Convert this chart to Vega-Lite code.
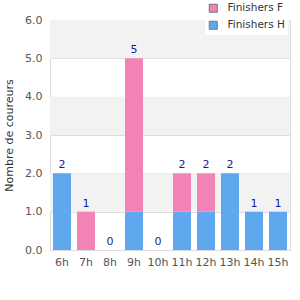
{
  "$schema": "https://vega.github.io/schema/vega-lite/v6.json",
  "width": 240,
  "height": 230,
  "autosize": {"type": "none"},
  "padding": {"left": 50, "top": 20, "right": 10, "bottom": 50},
  "background": "white",
  "config": {
    "view": {"stroke": "#dddddd", "strokeWidth": 1},
    "font": "DejaVu Sans",
    "axis": {"labelFont": "DejaVu Sans", "titleFont": "DejaVu Sans", "labelFontSize": 11, "labelColor": "#555555", "titleColor": "#333333", "titleFontSize": 11, "titleFontWeight": "normal", "domain": false, "ticks": false}
  },
  "datasets": {
    "runners": [
      {"heure": "6h", "serie": "Finishers H", "n": 2},
      {"heure": "6h", "serie": "Finishers F", "n": 0},
      {"heure": "7h", "serie": "Finishers H", "n": 0},
      {"heure": "7h", "serie": "Finishers F", "n": 1},
      {"heure": "8h", "serie": "Finishers H", "n": 0},
      {"heure": "8h", "serie": "Finishers F", "n": 0},
      {"heure": "9h", "serie": "Finishers H", "n": 1},
      {"heure": "9h", "serie": "Finishers F", "n": 4},
      {"heure": "10h", "serie": "Finishers H", "n": 0},
      {"heure": "10h", "serie": "Finishers F", "n": 0},
      {"heure": "11h", "serie": "Finishers H", "n": 1},
      {"heure": "11h", "serie": "Finishers F", "n": 1},
      {"heure": "12h", "serie": "Finishers H", "n": 1},
      {"heure": "12h", "serie": "Finishers F", "n": 1},
      {"heure": "13h", "serie": "Finishers H", "n": 2},
      {"heure": "13h", "serie": "Finishers F", "n": 0},
      {"heure": "14h", "serie": "Finishers H", "n": 1},
      {"heure": "14h", "serie": "Finishers F", "n": 0},
      {"heure": "15h", "serie": "Finishers H", "n": 1},
      {"heure": "15h", "serie": "Finishers F", "n": 0}
    ],
    "bands": [
      {"lo": 1, "hi": 2},
      {"lo": 3, "hi": 4},
      {"lo": 5, "hi": 6}
    ]
  },
  "layer": [
    {
      "data": {"name": "bands"},
      "mark": {"type": "rect", "color": "#f2f2f2"},
      "encoding": {
        "y": {"field": "lo", "type": "quantitative", "scale": {"domain": [0, 6]}},
        "y2": {"field": "hi"}
      }
    },
    {
      "data": {"name": "runners"},
      "mark": {"type": "bar"},
      "encoding": {
        "x": {"field": "heure", "type": "nominal", "sort": ["6h","7h","8h","9h","10h","11h","12h","13h","14h","15h"], "scale": {"paddingInner": 0.25, "paddingOuter": 0.125}, "axis": {"title": null, "labelAngle": 0, "labelPadding": 6}},
        "y": {"field": "n", "type": "quantitative", "aggregate": "sum", "stack": "zero", "scale": {"domain": [0, 6], "nice": false}, "axis": {"title": "Nombre de coureurs", "format": ".1f", "tickCount": 6, "gridColor": "#dddddd", "labelPadding": 8, "titlePadding": 10}},
        "color": {"field": "serie", "type": "nominal", "scale": {"domain": ["Finishers F", "Finishers H"], "range": ["#f283b6", "#5fa8f0"]}, "legend": {"title": null, "orient": "none", "legendX": 155, "legendY": -20, "symbolType": "square", "symbolSize": 64, "symbolStrokeColor": "#777777", "symbolStrokeWidth": 1, "labelFontSize": 10.5, "labelColor": "#333333", "labelFont": "DejaVu Sans", "labelOffset": 9, "fillColor": "white", "padding": 3, "rowPadding": 4}},
        "order": {"field": "serie", "sort": "descending"}
      }
    },
    {
      "data": {"name": "runners"},
      "transform": [{"aggregate": [{"op": "sum", "field": "n", "as": "total"}], "groupby": ["heure"]}],
      "mark": {"type": "text", "dy": -8, "fontSize": 11, "color": "#1a1a8f", "font": "DejaVu Sans"},
      "encoding": {
        "x": {"field": "heure", "type": "nominal", "sort": ["6h","7h","8h","9h","10h","11h","12h","13h","14h","15h"]},
        "y": {"field": "total", "type": "quantitative"},
        "text": {"field": "total", "type": "quantitative"}
      }
    }
  ]
}
